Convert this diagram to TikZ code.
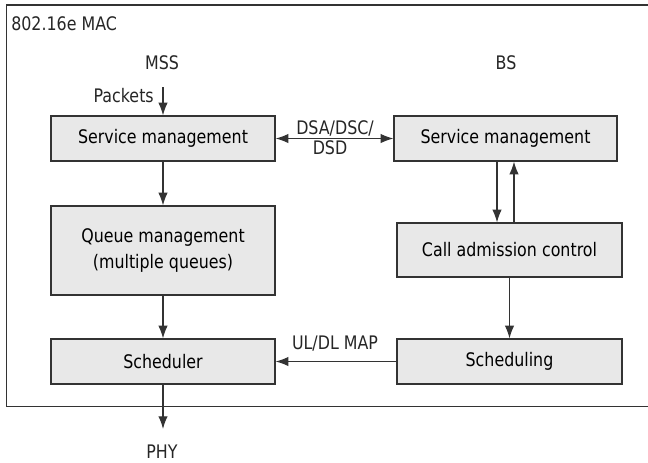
\documentclass[tikz,border=0pt]{standalone}
\usepackage{fontspec}
\setmainfont[FakeStretch=0.85]{DejaVu Sans}
\usetikzlibrary{arrows.meta}
\definecolor{boxfill}{HTML}{E8E8E8}
\definecolor{linec}{HTML}{333333}
\begin{document}
\begin{tikzpicture}[x=0.75pt,y=-0.75pt,
  blk/.style={draw=linec,line width=0.9pt,fill=boxfill,inner sep=0pt,align=center,font=\fontsize{14}{17}\selectfont},
  lbl/.style={inner sep=0pt,font=\fontsize{14}{17}\selectfont,text=black!85},
  arr/.style={draw=linec,line width=0.85pt,-{Latex[length=9.5pt,width=7pt]}},
  darr/.style={draw=linec,line width=0.85pt,{Latex[length=9.5pt,width=7pt]}-{Latex[length=9.5pt,width=7pt]}}]
\useasboundingbox (0,0) rectangle (648,462);
% frame
\draw[linec,line width=0.9pt] (652,5) -- (6.5,5) -- (6.5,406.5) -- (652,406.5);
\node[lbl,anchor=west] (mac) at (11,24) {802.16e MAC};
\node[lbl] (mss) at (162,63) {MSS};
\node[lbl] (bs) at (506,63) {BS};
% boxes
\node[blk,minimum width=168pt,minimum height=33.75pt] (smL) at (163,138.5) {Service management};
\node[blk,minimum width=167.25pt,minimum height=33.75pt] (smR) at (505.5,138.5) {Service management};
\node[blk,minimum width=168pt,minimum height=66.75pt] (qm) at (163,250.5) {Queue management\\[2pt](multiple queues)};
\node[blk,minimum width=168.75pt,minimum height=40.5pt] (cac) at (509.5,250) {Call admission control};
\node[blk,minimum width=168pt,minimum height=33.75pt] (sch) at (163,361.5) {Scheduler};
\node[blk,minimum width=168.75pt,minimum height=33.75pt] (scg) at (509.5,361.5) {Scheduling};
% labels
\node[lbl,anchor=east] (pk) at (154,96) {Packets};
\coordinate (pktop) at (163,87);
\node[lbl] (dsa) at (335,128) {DSA/DSC/};
\node[lbl] (dsd) at (330,148) {DSD};
\node[lbl] (ul) at (335,344) {UL/DL MAP};
\node[lbl] (phy) at (162,452) {PHY};
\coordinate (phyarr) at (163,429);
\coordinate (xd) at (497,0);
\coordinate (xu) at (514,0);
% connectors
\draw[arr] (pktop) -- (smL.north);
\draw[darr] (smL.east) -- (smR.west);
\draw[arr] (smL.south) -- (qm.north);
\draw[arr] (smR.south -| xd) -- (cac.north -| xd);
\draw[arr] (cac.north -| xu) -- (smR.south -| xu);
\draw[arr] (qm.south) -- (sch.north);
\draw[arr] (cac.south) -- (scg.north);
\draw[arr] (scg.west) -- (sch.east);
\draw[arr] (sch.south) -- (phyarr);
\end{tikzpicture}
\end{document}
